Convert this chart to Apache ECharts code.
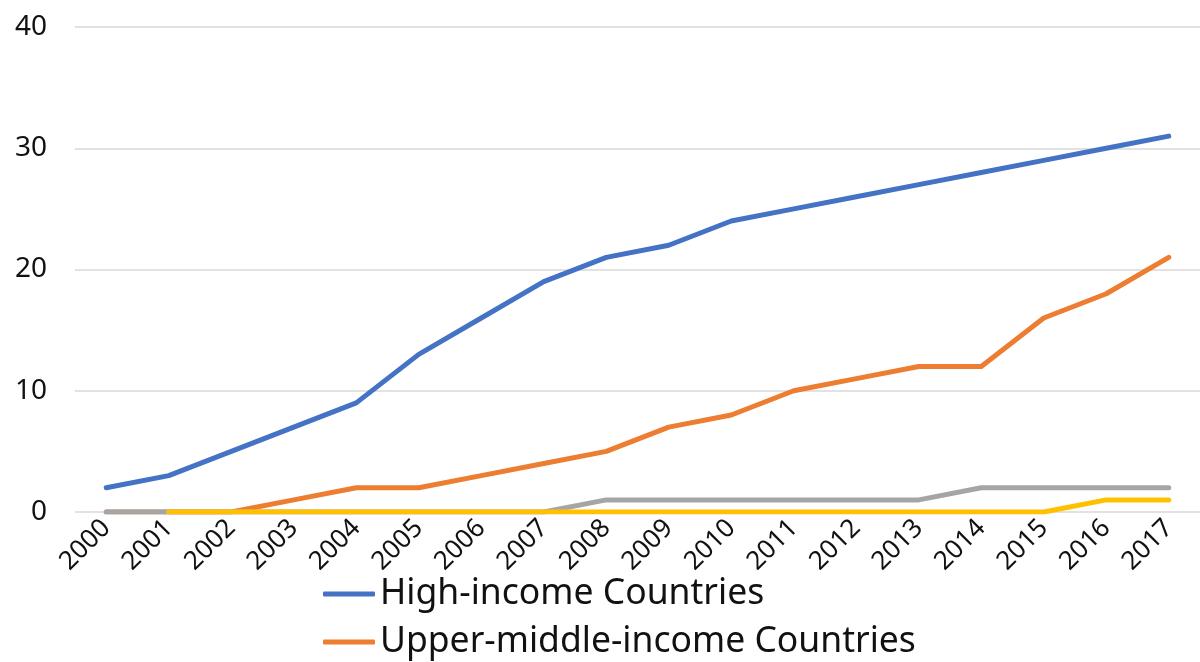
<!DOCTYPE html>
<html lang="en">
<head>
    <meta charset="UTF-8">
    <title>Countries by income group</title>
    <style>
        html, body { margin: 0; padding: 0; background: #fff; }
        #main { width: 1200px; height: 662px; }
    </style>
</head>
<body>
    <div id="main"></div>
</body>
<script src="https://cdn.jsdelivr.net/npm/echarts@6.0.0/dist/echarts.min.js"></script>
<script>
    const years = ['2000', '2001', '2002', '2003', '2004', '2005', '2006', '2007', '2008',
        '2009', '2010', '2011', '2012', '2013', '2014', '2015', '2016', '2017']
    const highIncome = [2, 3, 5, 7, 9, 13, 16, 19, 21, 22, 24, 25, 26, 27, 28, 29, 30, 31]
    const upperMiddle = [0, 0, 0, 1, 2, 2, 3, 4, 5, 7, 8, 10, 11, 12, 12, 16, 18, 21]
    const lowerMiddle = [0, 0, 0, 0, 0, 0, 0, 0, 1, 1, 1, 1, 1, 1, 2, 2, 2, 2]
    const lowIncome = [null, 0, 0, 0, 0, 0, 0, 0, 0, 0, 0, 0, 0, 0, 0, 0, 1, 1]
    const yTicks = [0, 10, 20, 30, 40]

    const font = '"Noto Sans", sans-serif'

    function line(name, data, color) {
        return {
            name: name,
            type: 'line',
            data: data,
            symbol: 'none',
            connectNulls: false,
            lineStyle: { width: 5, color: color, cap: 'round', join: 'round' },
            itemStyle: { color: color }
        }
    }

    echarts.init(document.getElementById('main')).setOption({
        animation: false,
        textStyle: { fontFamily: font },
        grid: { left: 75, top: 27, width: 1136, height: 485 },
        legend: {
            orient: 'vertical',
            left: 318,
            top: 570,
            height: 300,
            itemWidth: 52,
            itemHeight: 5,
            itemGap: 10,
            icon: 'roundRect',
            textStyle: { fontSize: 35.5, color: '#111', fontFamily: font, lineHeight: 38 },
            data: ['High-income Countries', 'Upper-middle-income Countries',
                'Lower-middle-income Countries', 'Low-income Countries']
        },
        xAxis: {
            type: 'category',
            data: years,
            boundaryGap: true,
            axisLine: { show: false },
            axisTick: { show: false },
            axisLabel: { rotate: 45, fontSize: 26, color: '#111', margin: 12, interval: 0 }
        },
        yAxis: {
            type: 'value',
            min: yTicks[0],
            max: yTicks[yTicks.length - 1],
            interval: 10,
            axisLine: { show: false },
            axisTick: { show: false },
            axisLabel: { fontSize: 28, color: '#111', margin: 28 },
            splitLine: { lineStyle: { color: '#d9d9d9', width: 1.5 } }
        },
        series: [
            line('High-income Countries', highIncome, '#4472C4'),
            line('Upper-middle-income Countries', upperMiddle, '#ED7D31'),
            line('Lower-middle-income Countries', lowerMiddle, '#A5A5A5'),
            line('Low-income Countries', lowIncome, '#FFC000')
        ]
    });
</script>
</html>
